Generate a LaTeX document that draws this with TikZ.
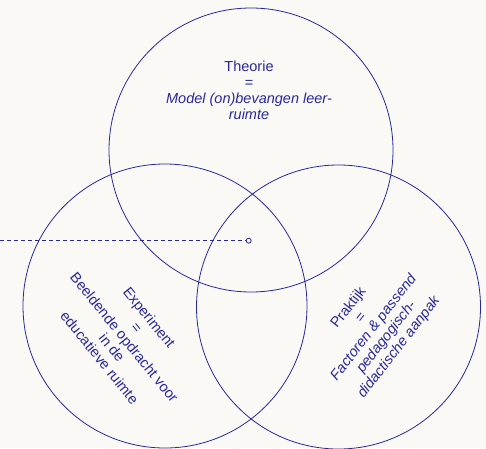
\documentclass[tikz,border=0pt]{standalone}
\usepackage{fontspec}
\setmainfont{Liberation Sans}
\usetikzlibrary{positioning}

\definecolor{venblue}{RGB}{40,40,158}
\definecolor{paper}{RGB}{250,249,245}

\begin{document}
\begin{tikzpicture}[
  x=1pt, y=1pt,
  ring/.style={draw=venblue, circle, line width=0.8pt, minimum size=284pt, inner sep=0pt},
  lbl/.style={text=venblue, align=center, inner sep=0pt, font=\fontsize{14.5}{16}\selectfont},
  link/.style={draw=venblue, line width=0.8pt, dash pattern=on 4pt off 3pt},
]

% === background and frame ===
\fill[paper] (0,0) rectangle (486,448);
\useasboundingbox (0,0) rectangle (486,448);

% === three circles ===
\node[ring] (theorie) at (251,298) {};
\node[ring] (experiment) at (165,142) {};
\node[ring] (praktijk) at (338.5,141) {};

% === labels ===
\node[lbl] (ttheorie) at (249,358) {Theorie\\=\\\textit{Model (on)bevangen leer-}\\\textit{ruimte}};
\node[lbl, rotate=-51] (texperiment) at (124.5,110.5) {Experiment\\=\\Beeldende opdracht voor\\in de\\educatieve ruimte};
\node[lbl, rotate=52] (tpraktijk) at (374,120.5) {Praktijk\\=\\\textit{Factoren \& passend}\\\textit{pedagogisch-}\\\textit{didactische aanpak}};

% === pointer into the centre ===
\coordinate (start) at (0,207.3);
\node[draw=venblue, fill=paper, circle, line width=0.8pt, inner sep=0pt, minimum size=5pt] (dot) at (248.7,207.3) {};
\draw[link] (start) -- (dot);

\end{tikzpicture}
\end{document}
